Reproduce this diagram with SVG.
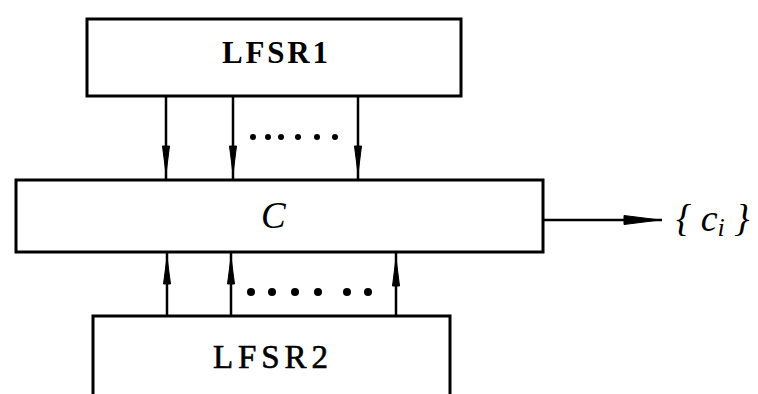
<svg xmlns="http://www.w3.org/2000/svg" width="758" height="394" viewBox="0 0 758 394">
  <style>
    .box { fill: #fff; stroke: #000; stroke-width: 3; }
    .wire { stroke: #000; stroke-width: 2.5; fill: none; }
    .head { fill: #000; stroke: #000; stroke-width: 1; }
    .dot { fill: #000; }
    .lbl { font-family: "Liberation Serif", "DejaVu Serif", serif; fill: #000; }
  </style>

  <!-- upper register -->
  <g id="lfsr1">
    <rect class="box" x="87" y="19" width="374" height="77"/>
    <text class="lbl" x="222" y="63" font-size="31" font-weight="bold" textLength="106" lengthAdjust="spacing">LFSR1</text>
  </g>

  <!-- combining function -->
  <g id="combiner">
    <rect class="box" x="16" y="180" width="527" height="72"/>
    <text class="lbl" x="261" y="228" font-size="37" font-style="italic">C</text>
  </g>

  <!-- lower register (runs off the bottom edge) -->
  <g id="lfsr2">
    <path class="box" d="M93 400 V316 H450 V400"/>
    <text class="lbl" x="213" y="368" font-size="33" stroke="#000" stroke-width="0.6" textLength="115" lengthAdjust="spacing">LFSR2</text>
  </g>

  <!-- output sequence -->
  <g id="output">
    <text class="lbl" x="676" y="231" font-size="38" font-style="italic">{ c<tspan font-size="26" dy="5">i</tspan><tspan dy="-5"> }</tspan></text>
  </g>

  <g id="connectors">
    <!-- LFSR1 -> C taps -->
    <line class="wire" x1="166" y1="96" x2="166" y2="180"/>
    <line class="wire" x1="233" y1="96" x2="233" y2="180"/>
    <line class="wire" x1="358" y1="96" x2="358" y2="180"/>
    <polygon class="head" points="162.5,146 169.5,146 166,174"/>
    <polygon class="head" points="229.5,146 236.5,146 233,174"/>
    <polygon class="head" points="354.5,146 361.5,146 358,174"/>
    <circle class="dot" cx="253" cy="137" r="3"/>
    <circle class="dot" cx="268" cy="137" r="3"/>
    <circle class="dot" cx="281" cy="137" r="3"/>
    <circle class="dot" cx="298" cy="137" r="3"/>
    <circle class="dot" cx="317" cy="137" r="3"/>
    <circle class="dot" cx="335" cy="137" r="3"/>

    <!-- LFSR2 -> C taps -->
    <line class="wire" x1="167" y1="252" x2="167" y2="316"/>
    <line class="wire" x1="231" y1="252" x2="231" y2="316"/>
    <line class="wire" x1="396" y1="252" x2="396" y2="316"/>
    <polygon class="head" points="163.5,284 170.5,284 167,257"/>
    <polygon class="head" points="227.5,284 234.5,284 231,257"/>
    <polygon class="head" points="392.5,286 399.5,286 396,258"/>
    <circle class="dot" cx="251" cy="292" r="4"/>
    <circle class="dot" cx="272" cy="292" r="4"/>
    <circle class="dot" cx="295" cy="292" r="4"/>
    <circle class="dot" cx="318" cy="292" r="4"/>
    <circle class="dot" cx="347" cy="292" r="4"/>
    <circle class="dot" cx="368" cy="292" r="4"/>

    <!-- C -> output -->
    <line class="wire" x1="543" y1="220" x2="662" y2="220"/>
    <polygon class="head" points="624,215.5 624,224.5 660,220"/>
  </g>
</svg>
